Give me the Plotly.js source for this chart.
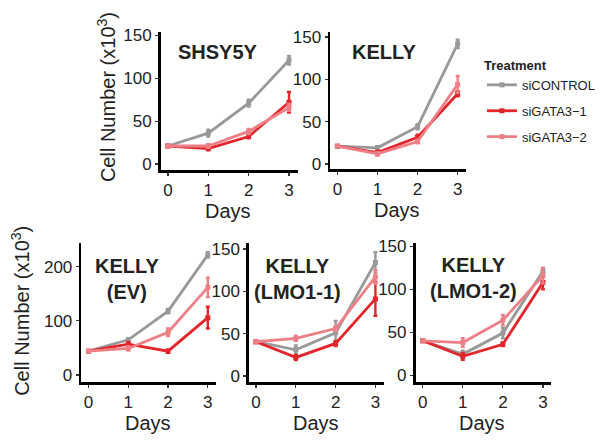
<!DOCTYPE html>
<html>
<head>
<meta charset="utf-8">
<script src="https://cdn.plot.ly/plotly-3.0.1.min.js"></script>
<style>html,body{margin:0;padding:0;background:#fff;}#chart{width:600px;height:446px;}</style>
</head>
<body>
<div id="chart"></div>
<script>
// ---- data ----
var days = [0, 1, 2, 3];
var treatments = ["siCONTROL", "siGATA3\u22121", "siGATA3\u22122"];
var panelTitles = ["SHSY5Y", "KELLY", "KELLY<br>(EV)", "KELLY<br>(LMO1-1)", "KELLY<br>(LMO1-2)"];

var shsy5y_ctrl = [21, 36, 71, 121];
var shsy5y_g1   = [21, 18, 32, 72];
var shsy5y_g2   = [21, 21, 38, 66];
var shsy5y_ctrl_err = [1, 4, 4, 5];
var shsy5y_g1_err   = [1, 2, 2, 12];
var shsy5y_g2_err   = [1, 2, 3, 4];

var kelly_ctrl = [21, 19, 44, 142];
var kelly_g1   = [21, 13.5, 31.5, 83];
var kelly_g2   = [21, 12, 26.5, 94];
var kelly_ctrl_err = [1, 2, 3, 5];
var kelly_g1_err   = [1, 2, 3, 3];
var kelly_g2_err   = [1, 2, 2, 10];

var ev_ctrl = [44, 65, 118, 222];
var ev_g1   = [44, 57, 44, 106];
var ev_g2   = [44, 49, 79, 162];
var ev_ctrl_err = [2, 3, 4, 5];
var ev_g1_err   = [2, 4, 3, 20];
var ev_g2_err   = [2, 4, 7, 18];

var lmo11_ctrl = [40.5, 31, 51, 134];
var lmo11_g1   = [40.5, 22, 38.5, 91];
var lmo11_g2   = [40.5, 44.5, 56, 117];
var lmo11_ctrl_err = [1, 5, 14, 12];
var lmo11_g1_err   = [1, 3, 3, 20];
var lmo11_g2_err   = [1, 3, 3, 8];

var lmo12_ctrl = [40, 24.5, 49, 121];
var lmo12_g1   = [40, 22, 36, 108];
var lmo12_g2   = [40, 38, 64, 116];
var lmo12_ctrl_err = [1, 4, 6, 4];
var lmo12_g1_err   = [1, 4, 2, 8];
var lmo12_g2_err   = [1, 5, 6, 9];

var yTicks1 = [0, 50, 100, 150];
var yTicksEV = [0, 100, 200];

// ---- styling ----
var colors = ["#999999", "#e3262b", "#ef7f86"];
var FONT = "Liberation Sans, Arial, Helvetica, sans-serif";

var panels = [
  {vals: [shsy5y_ctrl, shsy5y_g1, shsy5y_g2], errs: [shsy5y_ctrl_err, shsy5y_g1_err, shsy5y_g2_err]},
  {vals: [kelly_ctrl, kelly_g1, kelly_g2], errs: [kelly_ctrl_err, kelly_g1_err, kelly_g2_err]},
  {vals: [ev_ctrl, ev_g1, ev_g2], errs: [ev_ctrl_err, ev_g1_err, ev_g2_err]},
  {vals: [lmo11_ctrl, lmo11_g1, lmo11_g2], errs: [lmo11_ctrl_err, lmo11_g1_err, lmo11_g2_err]},
  {vals: [lmo12_ctrl, lmo12_g1, lmo12_g2], errs: [lmo12_ctrl_err, lmo12_g1_err, lmo12_g2_err]}
];

// panel pixel boxes [left, right, top, bottom]
var W = 600, H = 446;
var boxes = [
  [162, 300, 32, 170],
  [333, 470, 32, 169],
  [82, 218, 243, 382],
  [251, 387, 243, 382],
  [419, 556, 243, 382]
];
var yRanges = [[-7, 154], [-6, 156], [-13, 244], [-7, 157], [-8, 154]];

var traces = [];
panels.forEach(function (p, pi) {
  var ax = pi === 0 ? "" : String(pi + 1);
  for (var s = 0; s < 3; s++) {
    traces.push({
      type: "scatter",
      mode: "lines+markers",
      x: days,
      y: p.vals[s],
      xaxis: "x" + ax,
      yaxis: "y" + ax,
      name: treatments[s],
      legendgroup: treatments[s],
      showlegend: pi === 0,
      line: {color: colors[s], width: 2.8},
      marker: {color: colors[s], size: 5, symbol: "square"},
      error_y: {type: "data", array: p.errs[s], visible: true, color: colors[s], thickness: 2.4, width: 2}
    });
  }
});

var layout = {
  width: W, height: H,
  margin: {l: 0, r: 0, t: 0, b: 0},
  paper_bgcolor: "#fff", plot_bgcolor: "#fff",
  font: {family: FONT, color: "#222", size: 17},
  showlegend: true,
  legend: {
    x: 486 / W, y: 1 - 53 / H, xanchor: "left", yanchor: "top",
    title: {text: "<b>Treatment</b>", font: {size: 13, family: FONT, color: "#222"}},
    font: {size: 13, family: FONT, color: "#222"},
    tracegroupgap: 6,
    itemwidth: 30
  },
  annotations: [],
  shapes: []
};

boxes.forEach(function (b, i) {
  var ax = i === 0 ? "" : String(i + 1);
  layout["xaxis" + ax] = {
    domain: [b[0] / W, b[1] / W],
    range: [-0.18, 3.21],
    anchor: "y" + ax,
    tickvals: days,
    showline: true, linecolor: "#000", linewidth: 2.6,
    ticks: "outside", ticklen: 3, tickwidth: 1.2, tickcolor: "#333",
    showgrid: false, zeroline: false,
    tickfont: {size: 17, family: FONT, color: "#222"},
    fixedrange: true
  };
  layout["yaxis" + ax] = {
    domain: [1 - b[3] / H, 1 - b[2] / H],
    range: yRanges[i],
    anchor: "x" + ax,
    tickvals: i === 2 ? yTicksEV : yTicks1,
    showline: true, linecolor: "#000", linewidth: 2.6,
    ticks: "outside", ticklen: 3, tickwidth: 1.2, tickcolor: "#333",
    showgrid: false, zeroline: false,
    tickfont: {size: 17, family: FONT, color: "#222"},
    fixedrange: true
  };
  // Days label
  layout.annotations.push({
    xref: "paper", yref: "paper",
    x: ((b[0] + 7) + (b[0] + 7 + 121)) / 2 / W,
    y: 1 - (b[3] + 41) / H,
    text: "Days", showarrow: false,
    font: {size: 20, family: FONT, color: "#222"},
    xanchor: "center", yanchor: "middle"
  });
});

// panel titles
var titlePos = [[220, 52], [387, 52], [128, 279], [300, 279], [477, 278]];
panelTitles.forEach(function (t, i) {
  layout.annotations.push({
    xref: "paper", yref: "paper",
    x: titlePos[i][0] / W, y: 1 - titlePos[i][1] / H,
    text: "<b>" + t + "</b>", showarrow: false,
    font: {size: 20, family: FONT, color: "#222"},
    xanchor: "center", yanchor: "middle"
  });
});

// y-axis titles
[[108, 97], [20, 311]].forEach(function (p) {
  layout.annotations.push({
    xref: "paper", yref: "paper",
    x: p[0] / W, y: 1 - p[1] / H,
    text: "Cell Number (x10<sup>3</sup>)", showarrow: false, textangle: -90,
    font: {size: 20, family: FONT, color: "#222"},
    xanchor: "center", yanchor: "middle"
  });
});

Plotly.newPlot("chart", traces, layout, {displayModeBar: false, staticPlot: true});
</script>
</body>
</html>
